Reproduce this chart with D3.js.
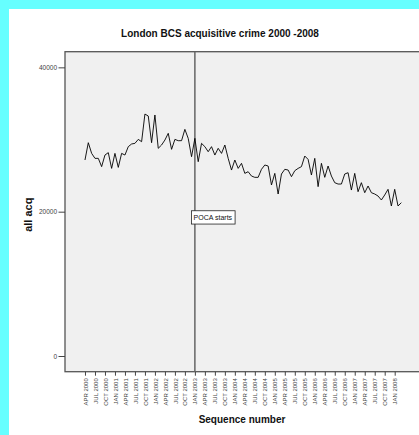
<!DOCTYPE html>
<html>
<head>
<meta charset="utf-8">
<script src="https://cdn.jsdelivr.net/npm/d3@7"></script>
<style>
  html, body { margin: 0; padding: 0; background: #66ffff; }
  svg { display: block; }
  text { font-family: "Liberation Sans", Arial, sans-serif; }
</style>
</head>
<body>
<script>
// ---- data ----
const months = ["JAN","FEB","MAR","APR","MAY","JUN","JUL","AUG","SEP","OCT","NOV","DEC"];
// monthly series, April 2000 .. March 2008
const allAcq = [
  27160, 29560, 28080, 27390, 27390, 26240, 27850, 28180, 26000, 28080,
  26140, 28080, 27850, 29010, 29380, 29470, 30020, 29700, 33530, 33260,
  29560, 33400, 28780, 29240, 29930, 30860, 28640, 30020, 29840, 29840,
  31410, 30160, 27620, 30160, 26930, 29470, 29010, 28310, 29010, 27850,
  28780, 28080, 29240, 27390, 25770, 27160, 26000, 26700, 25310, 25540,
  24940, 24760, 24760, 25870, 26470, 26330, 23700, 25310, 22450, 25220,
  25870, 25770, 24850, 25680, 26000, 26240, 27710, 27250, 25080, 27390,
  23470, 26700, 24760, 26330, 24940, 24020, 23830, 23830, 25220, 25400,
  23000, 25310, 22770, 24020, 22630, 23560, 22630, 22450, 22170, 21620,
  22310, 23100, 20790, 23100, 20790, 21250
];
const startMonth = 3, startYear = 2000;   // April 2000
const tickIdx = d3.range(0, allAcq.length, 3);
const tickLabels = tickIdx.map(i => {
  const m = startMonth + i;
  return months[m % 12] + " " + (startYear + Math.floor(m / 12));
});
const yTicks = [0, 20000, 40000];
const pocaIndex = 33;           // JAN 2003
const pocaText = "POCA starts";
const pocaLabelValue = 19200;

// ---- layout ----
const W = 419, H = 435;
const svg = d3.select("body").append("svg").attr("width", W).attr("height", H);
svg.append("rect").attr("x", 9).attr("y", 9).attr("width", W).attr("height", H).attr("fill", "#ffffff");

const plot = { left: 65, top: 51.7, bottom: 371.7, right: 422 };
const x = d3.scaleLinear().domain([-6, 101.2]).range([plot.left, plot.right]);
const y = d3.scaleLinear().domain([-2175, 42170]).range([plot.bottom, plot.top]);

// plot background
svg.append("rect")
  .attr("x", plot.left).attr("y", plot.top)
  .attr("width", plot.right - plot.left).attr("height", plot.bottom - plot.top)
  .attr("fill", "#f0f0f0").attr("stroke", "#555").attr("stroke-width", 1.3);

// title
svg.append("text").attr("x", 220).attr("y", 37).attr("text-anchor", "middle")
  .attr("font-size", 10).attr("font-weight", "bold").attr("fill", "#111")
  .text("London BCS acquisitive crime 2000 -2008");

// y axis
const yAxis = d3.axisLeft(y).tickValues(yTicks).tickSize(6.5).tickPadding(1.5).tickFormat(d3.format("d"));
const gy = svg.append("g").attr("transform", `translate(${plot.left},0)`).call(yAxis);
gy.select(".domain").remove();
gy.selectAll(".tick line").attr("stroke", "#444");
gy.selectAll(".tick text").attr("font-size", 6.5).attr("fill", "#444")
  .attr("font-family", "'Liberation Sans', Arial, sans-serif");

svg.append("text")
  .attr("transform", `translate(32,${(plot.top + plot.bottom) / 2 + 3}) rotate(-90)`)
  .attr("text-anchor", "middle").attr("font-size", 11).attr("font-weight", "bold").attr("fill", "#111")
  .text("all acq");

// x axis
const xAxis = d3.axisBottom(x).tickValues(tickIdx).tickSize(4).tickFormat((d, i) => tickLabels[i]);
const gx = svg.append("g").attr("transform", `translate(0,${plot.bottom})`).call(xAxis);
gx.select(".domain").remove();
gx.selectAll(".tick line").attr("stroke", "#444");
gx.selectAll(".tick text")
  .attr("font-size", 6).attr("fill", "#444")
  .attr("font-family", "'Liberation Sans', Arial, sans-serif")
  .attr("text-anchor", "end")
  .attr("transform", "rotate(-90)")
  .attr("x", -6.5).attr("y", 0).attr("dy", "0.35em");

svg.append("text").attr("x", 242).attr("y", 423).attr("text-anchor", "middle")
  .attr("font-size", 10).attr("font-weight", "bold").attr("fill", "#111")
  .text("Sequence number");

// POCA reference line
svg.append("line")
  .attr("x1", x(pocaIndex)).attr("x2", x(pocaIndex))
  .attr("y1", plot.top).attr("y2", plot.bottom)
  .attr("stroke", "#666").attr("stroke-width", 1.5);

// data line
const line = d3.line().x((d, i) => x(i)).y(d => y(d));
svg.append("path").datum(allAcq)
  .attr("d", line).attr("fill", "none").attr("stroke", "#000").attr("stroke-width", 0.9);

// POCA label box
const lbl = svg.append("g");
const lx = x(pocaIndex) - 3.3, ly = y(pocaLabelValue);
const t = lbl.append("text").attr("x", lx + 2).attr("y", ly + 2.5)
  .attr("font-size", 7).attr("fill", "#111").text(pocaText);
const bb = t.node().getBBox();
lbl.insert("rect", "text")
  .attr("x", lx).attr("y", ly - 6.7)
  .attr("width", bb.width + 4.5).attr("height", 13.3)
  .attr("fill", "#fff").attr("stroke", "#222").attr("stroke-width", 0.8);
</script>
</body>
</html>
